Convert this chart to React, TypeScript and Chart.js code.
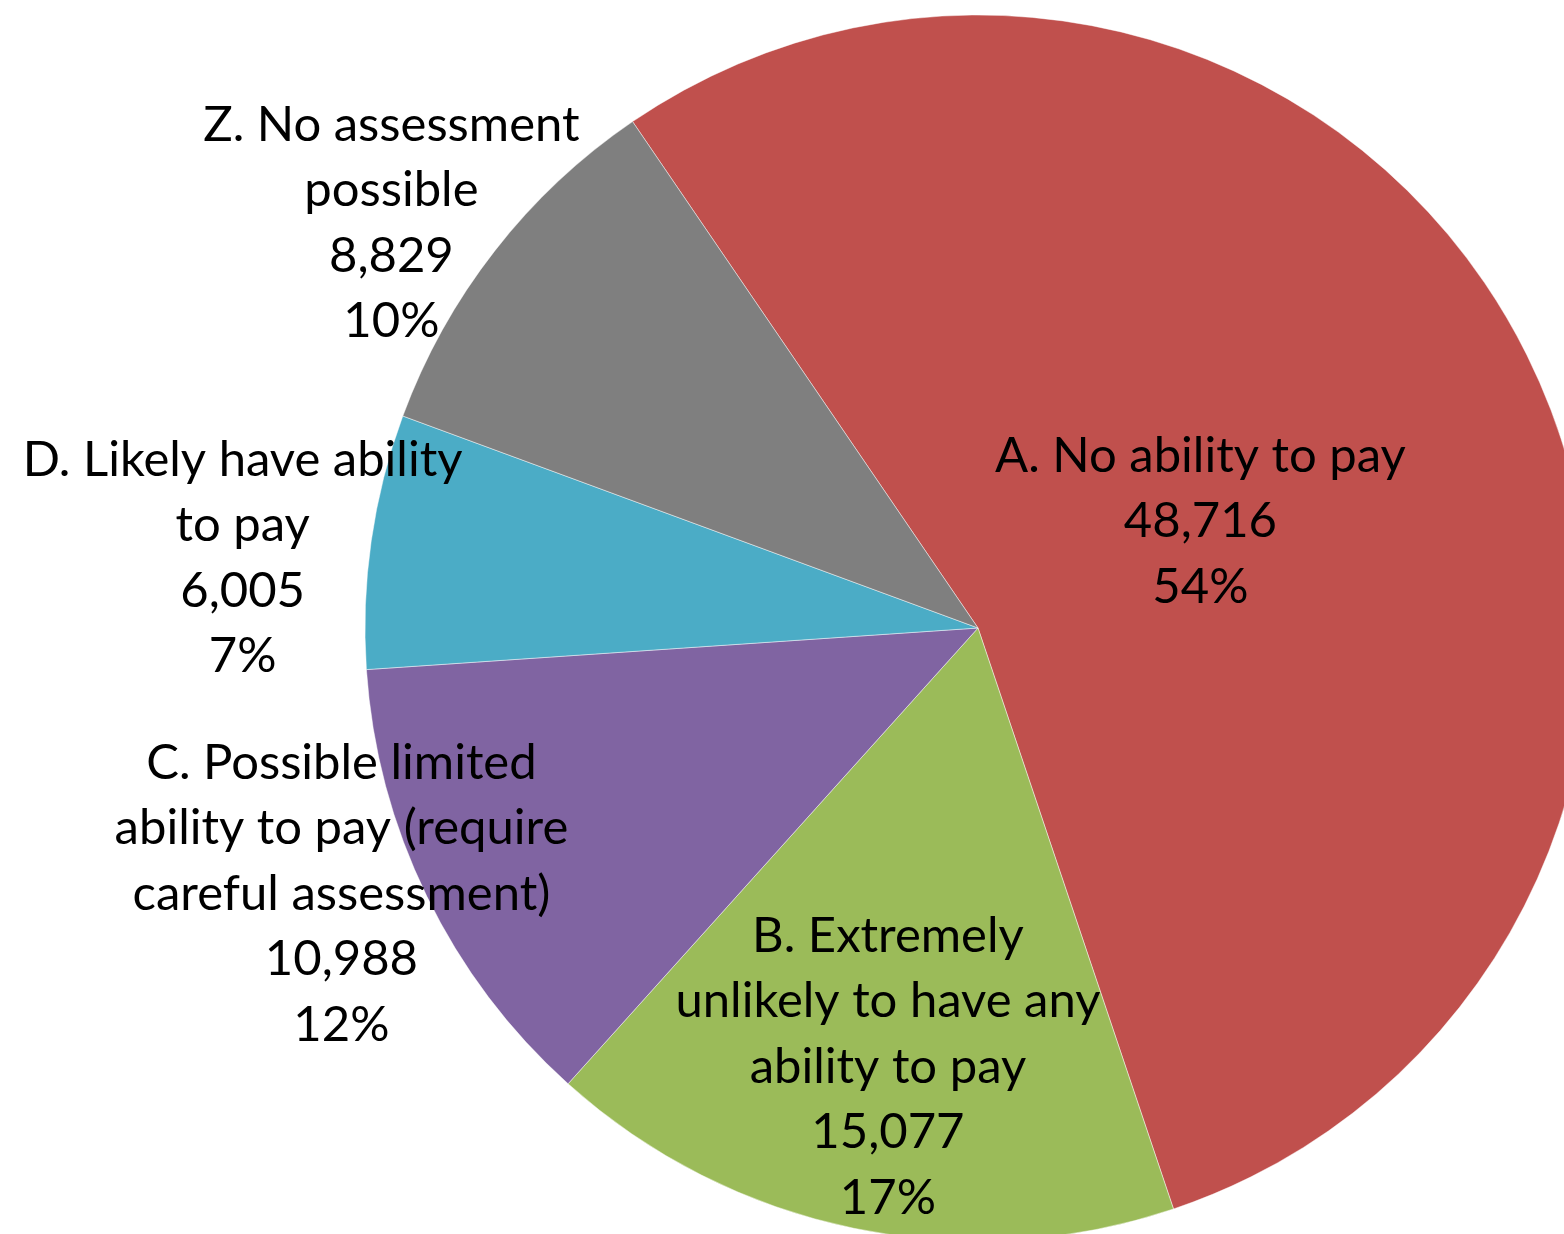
import React, { useEffect, useRef } from "react";
import { Chart, registerables } from "chart.js";

Chart.register(...registerables);

const categories = ["A", "B", "C", "D", "Z"];
const labelLines = [
  ["A. No ability to pay"],
  ["B. Extremely", "unlikely to have any", "ability to pay"],
  ["C. Possible limited", "ability to pay (require", "careful assessment)"],
  ["D. Likely have ability", "to pay"],
  ["Z. No assessment", "possible"],
];
const values = [48716, 15077, 10988, 6005, 8829];
const valueLabels = ["48,716", "15,077", "10,988", "6,005", "8,829"];
const percentLabels = ["54%", "17%", "12%", "7%", "10%"];
const colors = ["#C0504D", "#9BBB59", "#8064A2", "#4BACC6", "#7F7F7F"];

// label offsets from each slice's mid point (layout only)
const labelOffsets = [
  [-52, 30],
  [-28, 139],
  [-361, 132],
  [-432, -26],
  [-345, -216],
];

const W = 1564;
const H = 1234;
const FONT = "49px Lato";
const LINE_H = 65.5;

const labelPlugin = {
  id: "sliceLabels",
  afterDatasetsDraw(chart: any) {
    const ctx = chart.ctx;
    const meta = chart.getDatasetMeta(0);
    ctx.save();
    ctx.font = FONT;
    ctx.fillStyle = "#000";
    ctx.textAlign = "center";
    ctx.textBaseline = "middle";
    meta.data.forEach((arc: any, i: number) => {
      const p = arc.tooltipPosition();
      const lines = [...labelLines[i], valueLabels[i], percentLabels[i]];
      const cx = p.x + labelOffsets[i][0];
      const cy = p.y + labelOffsets[i][1];
      const top = cy - ((lines.length - 1) * LINE_H) / 2;
      lines.forEach((t, k) => ctx.fillText(t, cx, top + k * LINE_H));
    });
    ctx.restore();
  },
};

export default function App() {
  const ref = useRef<HTMLCanvasElement | null>(null);
  useEffect(() => {
    if (!ref.current) return;
    const chart = new Chart(ref.current, {
      type: "pie",
      data: {
        labels: categories,
        datasets: [
          {
            data: values,
            backgroundColor: colors,
            borderColor: "rgba(255,255,255,0.45)",
            borderWidth: 1,
            clip: false,
          } as any,
        ],
      },
      options: {
        responsive: false,
        animation: false,
        rotation: -34.3,
        radius: 613,
        layout: { padding: { left: 392, top: 22, right: 0, bottom: 0 } },
        plugins: {
          legend: { display: false },
          tooltip: { enabled: false },
          title: { display: false },
        },
      } as any,
      plugins: [labelPlugin],
    });
    return () => chart.destroy();
  }, []);
  return (
    <div style={{ position: "fixed", left: 0, top: 0, width: W, height: H, background: "#fff" }}>
      <canvas ref={ref} width={W} height={H} style={{ width: W, height: H, display: "block" }} />
    </div>
  );
}
